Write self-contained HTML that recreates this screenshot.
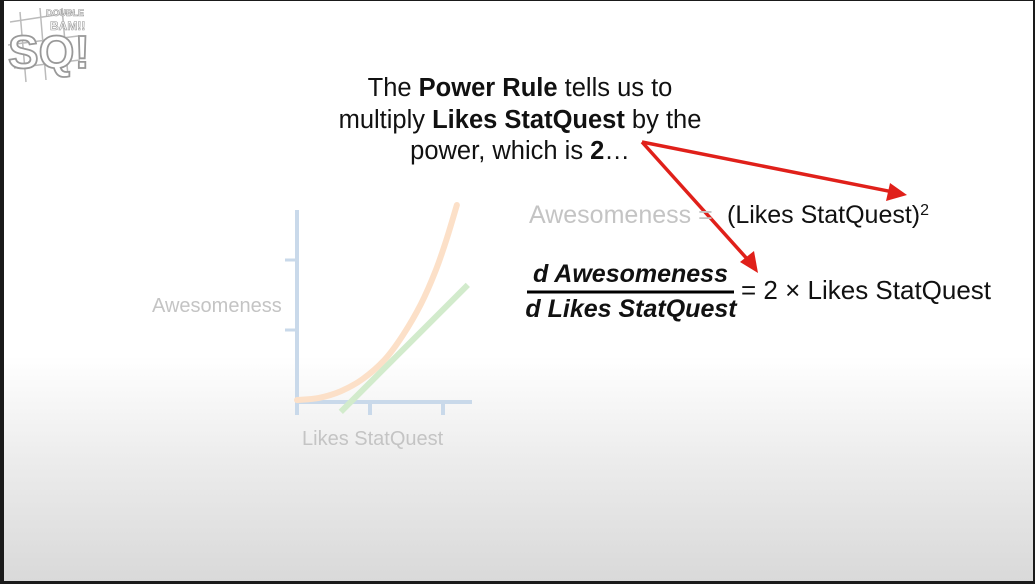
<!DOCTYPE html>
<html><head><meta charset="utf-8"><style>
html,body{margin:0;padding:0;}
body{width:1035px;height:584px;overflow:hidden;background:#1a1a1a;position:relative;font-family:"Liberation Sans",Arial,sans-serif;}
#frame{position:absolute;left:4px;top:1px;width:1029px;height:580px;background:linear-gradient(to bottom,#ffffff 0px,#ffffff 355px,#ececec 460px,#d9d9d9 580px);}
.t{position:absolute;white-space:nowrap;}
</style></head><body>
<div id="frame"></div>
<svg width="1035" height="584" style="position:absolute;left:0;top:0">
 <g stroke="#bbb" fill="none" stroke-width="1.5">
  <path d="M10 22 L75 12 M8 45 L78 36 M14 68 L80 60 M20 12 L26 82 M40 8 L46 80 M62 8 L68 76"/>
  <text x="8" y="68" font-family="Liberation Sans" font-size="46" font-weight="bold" fill="#fff" stroke="#999" stroke-width="1.8">SQ!</text>
  <text x="46" y="16" font-family="Liberation Sans" font-size="9" font-weight="bold" fill="#fff" stroke="#999" stroke-width="0.6">DOUBLE</text>
  <text x="50" y="30" font-family="Liberation Sans" font-size="12" font-weight="bold" fill="#fff" stroke="#999" stroke-width="0.6">BAM!!</text>
 </g>
 <g id="chart"></g>
 <g stroke="#e0201a" stroke-width="3.5" fill="#e0201a">
  <line x1="642" y1="142" x2="893" y2="192"/>
  <polygon points="907,195 886,201 890,183" stroke="none"/>
  <line x1="642" y1="142" x2="749" y2="261"/>
  <polygon points="758,273 740,262 754,251" stroke="none"/>
 </g>
 <line x1="527" y1="292" x2="734" y2="292" stroke="#000" stroke-width="3"/>
</svg>
<div class="t" style="left:270px;top:73px;width:500px;text-align:center;font-size:25.5px;line-height:31.5px;color:#111;">The <b>Power Rule</b> tells us to<br>multiply <b>Likes StatQuest</b> by the<br>power, which is <b>2</b>…</div>
<div class="t" style="left:529px;top:201px;font-size:25px;color:#c4c4c4;">Awesomeness =</div>
<div class="t" style="left:727px;top:201px;font-size:25px;color:#111;">(Likes StatQuest)<span style="font-size:16px;vertical-align:8px">2</span></div>
<div class="t" style="left:517px;top:260px;width:227px;text-align:center;font-size:25px;font-weight:bold;font-style:italic;color:#111;">d Awesomeness</div>
<div class="t" style="left:510px;top:295px;width:242px;text-align:center;font-size:25px;font-weight:bold;font-style:italic;color:#111;">d Likes StatQuest</div>
<div class="t" style="left:741px;top:275px;font-size:26px;color:#111;">= 2 × Likes StatQuest</div>
<div class="t" style="left:152px;top:295px;font-size:20px;color:#c4c4c4;">Awesomeness</div>
<div class="t" style="left:302px;top:428px;font-size:20px;color:#c4c4c4;">Likes StatQuest</div>
<script>
const curveX=[0,0.3,0.6,0.9,1.2,1.45,1.7,1.9,2.05,2.19];
const curveY=[0,0.06,0.25,0.6,1.15,1.85,2.75,3.7,4.6,5.57];
const tangentX=[0.6,2.34];
const tangentY=[-0.34,3.29];
const xTicks=[0,1,2];
const yTicks=[2,4];
const sx=v=>297+v*73;
const sy=v=>400-v*35;
const NS='http://www.w3.org/2000/svg';
const g=document.getElementById('chart');
function mk(t,a){const e=document.createElementNS(NS,t);for(const k in a)e.setAttribute(k,a[k]);g.appendChild(e);return e;}
const axC='#c9d9ea';
let ya=mk('line',{x1:sx(0),y1:210,x2:sx(0),y2:sy(0)+2,stroke:axC,'stroke-width':4});


let xa=mk('line',{x1:sx(0)-2,y1:sy(0)+2,x2:472,y2:sy(0)+2,stroke:axC,'stroke-width':4});


yTicks.forEach(v=>{const e=mk('line',{x1:sx(0)-12,y1:sy(v),x2:sx(0),y2:sy(v),stroke:axC,'stroke-width':3});

});
xTicks.forEach(v=>{const e=mk('line',{x1:sx(v),y1:sy(0),x2:sx(v),y2:sy(0)+15,stroke:axC,'stroke-width':4});

});
const P=curveX.map((x,i)=>[sx(x),sy(curveY[i])]);
let d='M'+P[0][0]+' '+P[0][1];
for(let i=0;i<P.length-1;i++){const p0=P[Math.max(0,i-1)],p1=P[i],p2=P[i+1],p3=P[Math.min(P.length-1,i+2)];
d+=' C'+(p1[0]+(p2[0]-p0[0])/6)+' '+(p1[1]+(p2[1]-p0[1])/6)+' '+(p2[0]-(p3[0]-p1[0])/6)+' '+(p2[1]-(p3[1]-p1[1])/6)+' '+p2[0]+' '+p2[1];}
const c=mk('path',{d:d,fill:'none',stroke:'#fce0c8','stroke-width':6,'stroke-linecap':'round'});


const l=mk('line',{x1:sx(tangentX[0]),y1:sy(tangentY[0]),x2:sx(tangentX[1]),y2:sy(tangentY[1]),stroke:'#d2ebcc','stroke-width':6});


</script>
</body></html>
